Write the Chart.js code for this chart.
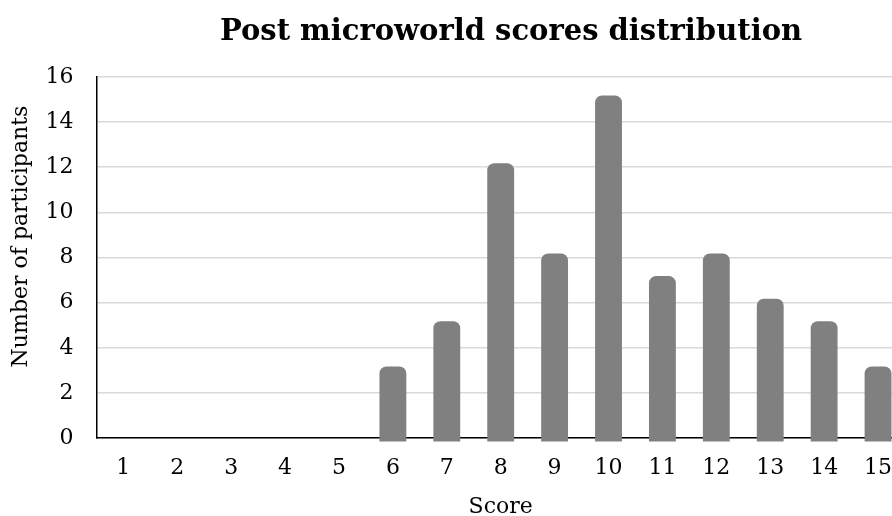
<!DOCTYPE html>
<html>
<head>
<meta charset="utf-8">
<script src="https://cdn.jsdelivr.net/npm/chart.js@4.4.0/dist/chart.umd.min.js"></script>
<style>
  html, body { margin: 0; padding: 0; background: #fff; overflow: hidden; }
  #wrap { width: 1018px; height: 516px; position: relative; }
</style>
</head>
<body>
<div id="wrap"><canvas id="grafico"></canvas></div>
<script>
// Dados do gráfico
const pontuacoes = ['1', '2', '3', '4', '5', '6', '7', '8', '9', '10', '11', '12', '13', '14', '15'];
const participantes = [0, 0, 0, 0, 0, 3, 5, 12, 8, 15, 7, 8, 6, 5, 3];
const ticksY = [0, 2, 4, 6, 8, 10, 12, 14, 16];

const fonte = "'DejaVu Serif', 'Liberation Serif', serif";
// espaços à esquerda sobem o título do eixo Y, como no original
const tituloY = '      Number of participants';

const ctx = document.getElementById('grafico').getContext('2d');
new Chart(ctx, {
  type: 'bar',
  data: {
    labels: pontuacoes,
    datasets: [{
      label: 'Number of participants',
      data: participantes,
      // barras com valor 0 não aparecem no original
      backgroundColor: c => (c.raw === 0 ? 'rgba(0,0,0,0)' : '#808080'),
      borderRadius: { topLeft: 7, topRight: 7 },
      borderSkipped: 'bottom',
      inflateAmount: 4,
      clip: false,
      categoryPercentage: 1,
      barPercentage: 0.35
    }]
  },
  options: {
    responsive: true,
    maintainAspectRatio: false,
    animation: false,
    layout: { padding: { left: 4, right: 0, top: 11, bottom: -4 } },
    plugins: {
      legend: { display: false },
      tooltip: { enabled: false },
      title: {
        display: true,
        text: 'Post microworld scores distribution',
        color: '#000',
        font: { family: fonte, size: 29, weight: 'bold' },
        padding: { top: 4, bottom: 27 }
      }
    },
    scales: {
      x: {
        z: 1,
        grid: { display: false, drawTicks: false },
        border: { display: true, color: '#000', width: 1.5 },
        ticks: { color: '#000', font: { family: fonte, size: 22 }, padding: 17, maxRotation: 0 },
        title: { display: true, text: 'Score', color: '#000', font: { family: fonte, size: 22 }, padding: { top: -5, bottom: 0 } }
      },
      y: {
        min: 0,
        max: 16,
        afterBuildTicks: axis => { axis.ticks = ticksY.map(v => ({ value: v })); },
        grid: { color: '#d9d9d9', lineWidth: 1.5, drawTicks: false },
        border: { display: true, color: '#000', width: 1.5 },
        ticks: { color: '#000', font: { family: fonte, size: 22 }, padding: 23 },
        title: { display: true, text: tituloY, color: '#000', font: { family: fonte, size: 22 }, padding: { top: 4, bottom: -12 } }
      },
      // eixo vazio à direita: o gráfico original continua além da janela
      direita: {
        position: 'right',
        display: true,
        grid: { display: false },
        border: { display: false },
        ticks: { display: false },
        afterFit: s => { s.width = 113; }
      }
    }
  }
});
</script>
</body>
</html>
